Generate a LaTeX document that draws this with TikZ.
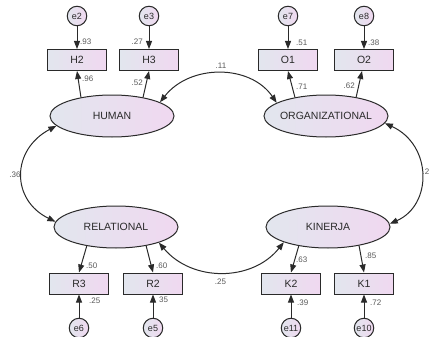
\documentclass[tikz,border=0pt]{standalone}
\usepackage{fontspec}
\setmainfont{Liberation Sans}
\usetikzlibrary{shapes.geometric,arrows.meta}
\definecolor{gl}{HTML}{E2E6EE}
\definecolor{gr}{HTML}{F0D8F0}
\definecolor{ink}{HTML}{2A2A2A}
\begin{document}
\begin{tikzpicture}[x=1pt,y=-1pt,
  latent/.style={ellipse,draw=ink,line width=1pt,left color=gl,right color=gr,
    minimum width=124pt,minimum height=42pt,inner sep=0pt,text=ink,
    font=\fontsize{10.5}{12}\selectfont},
  obs/.style={rectangle,draw=ink,line width=1pt,left color=gl,right color=gr,
    minimum width=59pt,minimum height=21pt,inner sep=0pt,text=ink,
    font=\fontsize{10.5}{12}\selectfont},
  err/.style={circle,draw=ink,line width=1pt,left color=gl,right color=gr,
    minimum size=19.5pt,inner sep=0pt,text=ink,font=\fontsize{9}{10}\selectfont},
  coef/.style={font=\fontsize{8}{9}\selectfont,text=black!65,inner sep=0pt},
  arr/.style={draw=ink,line width=1pt,-{Triangle[length=8pt,width=6pt]}},
  cov/.style={draw=ink,line width=1pt,{Triangle[length=8pt,width=6pt]}-{Triangle[length=8pt,width=6pt]}},
]
\useasboundingbox (0,0) rectangle (431,337);
% latent variables
\node[latent] (HUM) at (112,116) {\makebox[0pt]{HUMAN}};
\node[latent] (ORG) at (326,116) {\makebox[0pt]{ORGANIZATIONAL}};
\node[latent] (REL) at (116,227) {\makebox[0pt]{RELATIONAL}};
\node[latent] (KIN) at (328,227) {\makebox[0pt]{KINERJA}};
% observed
\node[obs] (H2) at (77,60) {H2};
\node[obs] (H3) at (149,60) {H3};
\node[obs] (O1) at (288,60) {O1};
\node[obs] (O2) at (364,60) {O2};
\node[obs] (R3) at (79,283.5) {R3};
\node[obs] (R2) at (153,283.5) {R2};
\node[obs] (K2) at (291,283.5) {K2};
\node[obs] (K1) at (364,283.5) {K1};
% errors
\node[err] (e2) at (77,16) {e2};
\node[err] (e3) at (149,16) {e3};
\node[err] (e7) at (288,16) {e7};
\node[err] (e8) at (364,16) {e8};
\node[err] (e6) at (79,328) {e6};
\node[err] (e5) at (153,328) {e5};
\node[err] (e11) at (291,328) {e11};
\node[err] (e10) at (364,328) {e10};
% error paths
\foreach \a/\b in {e2/H2,e3/H3,e7/O1,e8/O2}{\draw[arr] (\a) -- (\b.north);}
\foreach \a/\b in {e6/R3,e5/R2,e11/K2,e10/K1}{\draw[arr] (\a) -- (\b.south);}
% loadings
\draw[arr] (HUM.149) -- (H2.south);
\draw[arr] (HUM.31) -- (H3.south);
\draw[arr] (ORG.149) -- (O1.south);
\draw[arr] (ORG.32) -- ([xshift=-2pt]O2.south);
\draw[arr] (REL.213) -- (R3.north);
\draw[arr] (REL.328) -- (R2.north);
\draw[arr] (KIN.213) -- (K2.north);
\draw[arr] (KIN.329) -- (K1.north);
% covariances
\draw[cov] (HUM.16) .. controls (190,64) and (250,64) .. (ORG.165);
\draw[cov] (HUM.190) .. controls (11,150) and (11,200) .. (REL.175);
\draw[cov] (ORG.353) .. controls (432.5,145) and (432.5,205) .. (KIN.3);
\draw[cov] (REL.340) .. controls (192,282) and (252,282) .. (KIN.199);
% coefficients
\node[coef,anchor=west] (c1) at (80,42) {.93};
\node[coef,anchor=east] (c2) at (143,42) {.27};
\node[coef,anchor=west] (c3) at (82,79) {.96};
\node[coef,anchor=east] (c4) at (143,83) {.52};
\node[coef,anchor=west] (c5) at (296,43) {.51};
\node[coef,anchor=west] (c6) at (368,43) {.38};
\node[coef,anchor=west] (c7) at (296,87) {.71};
\node[coef,anchor=east] (c8) at (355,86) {.62};
\node[coef] (c9) at (221,66) {.11};
\node[coef] (c10) at (15,175) {.36};
\node[coef,anchor=west] (c11) at (422.5,172) {.2};
\node[coef,anchor=west] (c12) at (86,266) {.50};
\node[coef,anchor=west] (c13) at (156,266) {.60};
\node[coef,anchor=west] (c14) at (89,301) {.25};
\node[coef,anchor=west] (c15) at (159,300) {35};
\node[coef] (c16) at (220.5,282) {.25};
\node[coef,anchor=west] (c17) at (296,260) {.63};
\node[coef,anchor=west] (c18) at (365,256) {.85};
\node[coef,anchor=west] (c19) at (297,303) {.39};
\node[coef,anchor=west] (c20) at (370,303) {.72};
\end{tikzpicture}
\end{document}
